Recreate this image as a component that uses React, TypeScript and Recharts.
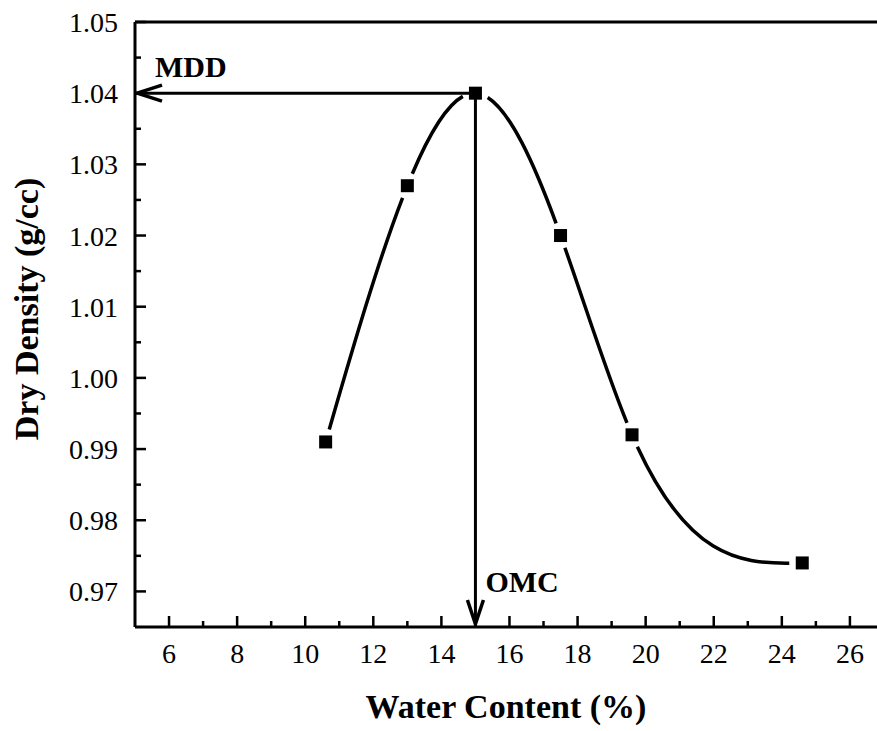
import React from 'react';
import { ComposedChart, Line, XAxis, YAxis, ReferenceLine } from 'recharts';

// ---- data ----
const waterContent = [10.6, 13.0, 15.0, 17.5, 19.6, 24.6];
const dryDensity = [0.991, 1.027, 1.04, 1.02, 0.992, 0.974];
const xTicks = [6, 8, 10, 12, 14, 16, 18, 20, 22, 24, 26];
const xMinorTicks = [7, 9, 11, 13, 15, 17, 19, 21, 23, 25, 27];
const yTicks = [0.97, 0.98, 0.99, 1.0, 1.01, 1.02, 1.03, 1.04, 1.05];
const yMinorTicks = [0.975, 0.985, 0.995, 1.005, 1.015, 1.025, 1.035, 1.045];
const xDomain = [5, 28];
const yDomain = [0.965, 1.05];
const omcValue = 15.0;
const mddValue = 1.04;

const curveData = waterContent.map((x, i) => ({ x, y: dryDensity[i] }));
const mddArrow = [
  { x: omcValue, y: mddValue },
  { x: xDomain[0], y: mddValue },
];
const omcArrow = [
  { x: omcValue, y: mddValue },
  { x: omcValue, y: yDomain[0] },
];

const FONT = '"Liberation Serif", "Times New Roman", Times, serif';
const SYMBOL_GAP = 13; // px gap left around each symbol (Origin style)
const isIn = (arr: number[], v: number) => arr.some((t) => Math.abs(t - v) < 1e-9);

type Pt = [number, number];
const lerp = (a: Pt, b: Pt, t: number): Pt => [a[0] + (b[0] - a[0]) * t, a[1] + (b[1] - a[1]) * t];
function splitBez(P: Pt[], t: number): [Pt[], Pt[]] {
  const p01 = lerp(P[0], P[1], t);
  const p12 = lerp(P[1], P[2], t);
  const p23 = lerp(P[2], P[3], t);
  const p012 = lerp(p01, p12, t);
  const p123 = lerp(p12, p23, t);
  const p = lerp(p012, p123, t);
  return [
    [P[0], p01, p012, p],
    [p, p123, p23, P[3]],
  ];
}
function bezAt(P: Pt[], t: number): Pt {
  return splitBez(P, t)[0][3];
}
const dist = (a: Pt, b: Pt) => Math.hypot(a[0] - b[0], a[1] - b[1]);
function findT(P: Pt[], fromStart: boolean, r: number): number {
  const ref = fromStart ? P[0] : P[3];
  let lo = 0;
  let hi = 1;
  for (let k = 0; k < 40; k++) {
    const mid = (lo + hi) / 2;
    const t = fromStart ? mid : 1 - mid;
    if (dist(bezAt(P, t), ref) < r) lo = mid;
    else hi = mid;
  }
  const m = (lo + hi) / 2;
  return fromStart ? m : 1 - m;
}

// Natural cubic spline with y as a function of x (Origin "Spline" connection),
// drawn with a small gap around each data symbol.
function splineX(context: any) {
  let xs: number[] = [];
  let ys: number[] = [];
  return {
    areaStart() {},
    areaEnd() {},
    lineStart() {
      xs = [];
      ys = [];
    },
    point(x: number, y: number) {
      xs.push(+x);
      ys.push(+y);
    },
    lineEnd() {
      const n = xs.length;
      if (n < 2) {
        xs = [];
        ys = [];
        return;
      }
      const h: number[] = [];
      const s: number[] = [];
      for (let i = 0; i < n - 1; i++) {
        h[i] = xs[i + 1] - xs[i];
        s[i] = (ys[i + 1] - ys[i]) / h[i];
      }
      let M: number[] = new Array(n).fill(0);
      if (n > 2) {
        const m = n - 2;
        const a: number[] = [];
        const b: number[] = [];
        const c: number[] = [];
        const d: number[] = [];
        for (let k = 0; k < m; k++) {
          const i = k + 1;
          a[k] = h[i - 1];
          b[k] = 2 * (h[i - 1] + h[i]);
          c[k] = h[i];
          d[k] = 6 * (s[i] - s[i - 1]);
        }
        for (let k = 1; k < m; k++) {
          const w = a[k] / b[k - 1];
          b[k] -= w * c[k - 1];
          d[k] -= w * d[k - 1];
        }
        const Mk: number[] = new Array(m).fill(0);
        Mk[m - 1] = d[m - 1] / b[m - 1];
        for (let k = m - 2; k >= 0; k--) Mk[k] = (d[k] - c[k] * Mk[k + 1]) / b[k];
        M = [0, ...Mk, 0];
      }
      for (let i = 0; i < n - 1; i++) {
        const d0 = s[i] - (h[i] * (2 * M[i] + M[i + 1])) / 6;
        const d1 = s[i] + (h[i] * (M[i] + 2 * M[i + 1])) / 6;
        const P: Pt[] = [
          [xs[i], ys[i]],
          [xs[i] + h[i] / 3, ys[i] + (d0 * h[i]) / 3],
          [xs[i + 1] - h[i] / 3, ys[i + 1] - (d1 * h[i]) / 3],
          [xs[i + 1], ys[i + 1]],
        ];
        const ta = findT(P, true, SYMBOL_GAP);
        const tb = findT(P, false, SYMBOL_GAP);
        if (tb <= ta) continue;
        const left = splitBez(P, tb)[0];
        const sub = splitBez(left, ta / tb)[1];
        context.moveTo(sub[0][0], sub[0][1]);
        context.bezierCurveTo(sub[1][0], sub[1][1], sub[2][0], sub[2][1], sub[3][0], sub[3][1]);
      }
      xs = [];
      ys = [];
    },
  };
}

const XTick = (props: any) => {
  const { x, y, payload } = props;
  const major = isIn(xTicks, payload.value);
  return (
    <g>
      <line x1={x} x2={x} y1={y} y2={y - (major ? 11 : 6)} stroke="#000" strokeWidth={2.5} />
      {major && (
        <text x={x} y={y + 36} textAnchor="middle" fontSize={28} fontFamily={FONT} fill="#000">
          {payload.value}
        </text>
      )}
    </g>
  );
};

const YTick = (props: any) => {
  const { x, y, payload } = props;
  const major = isIn(yTicks, payload.value);
  return (
    <g>
      <line x1={x} x2={x + (major ? 11 : 6)} y1={y} y2={y} stroke="#000" strokeWidth={2.5} />
      {major && (
        <text x={x - 17} y={y + 10} textAnchor="end" fontSize={28} fontFamily={FONT} fill="#000">
          {Number(payload.value).toFixed(2)}
        </text>
      )}
    </g>
  );
};

const MarkerDot = (props: any) => {
  const { cx, cy, index } = props;
  if (cx == null || cy == null) return <g key={`m-${index}`} />;
  return <rect key={`m-${index}`} x={cx - 6.5} y={cy - 6.5} width={13} height={13} fill="#000" />;
};

const MddTip = (props: any) => {
  const { cx, cy, index } = props;
  if (index !== 1) return <g key={`a-${index}`} />;
  return (
    <g key={`a-${index}`}>
      <path
        d={`M${cx + 27},${cy - 8} L${cx + 2},${cy} L${cx + 27},${cy + 8}`}
        fill="none"
        stroke="#000"
        strokeWidth={3.5}
        strokeLinejoin="miter"
      />
      <text x={cx + 20} y={cy - 16} fontSize={30} fontWeight="bold" fontFamily={FONT} fill="#000">
        MDD
      </text>
    </g>
  );
};

const OmcTip = (props: any) => {
  const { cx, cy, index } = props;
  if (index !== 1) return <g key={`o-${index}`} />;
  return (
    <g key={`o-${index}`}>
      <path
        d={`M${cx - 8},${cy - 27} L${cx},${cy - 3} L${cx + 8},${cy - 27}`}
        fill="none"
        stroke="#000"
        strokeWidth={3.5}
        strokeLinejoin="miter"
      />
      <text x={cx + 10} y={cy - 35} fontSize={30} fontWeight="bold" fontFamily={FONT} fill="#000">
        OMC
      </text>
    </g>
  );
};

export default function App() {
  return (
    <div
      style={{
        position: 'absolute',
        left: 0,
        top: 0,
        width: 877,
        height: 731,
        overflow: 'hidden',
        background: '#fff',
      }}
    >
      <ComposedChart width={918} height={731} margin={{ top: 22, right: 0, bottom: 0, left: 0 }}>
        <XAxis
          xAxisId="main"
          dataKey="x"
          type="number"
          domain={xDomain}
          allowDataOverflow
          ticks={[...xTicks, ...xMinorTicks].sort((a, b) => a - b)}
          interval={0}
          height={104}
          tickSize={0}
          tickMargin={0}
          tickLine={false}
          tick={<XTick />}
          axisLine={{ stroke: '#000', strokeWidth: 3 }}
        />
        <YAxis
          yAxisId="main"
          type="number"
          domain={yDomain}
          allowDataOverflow
          ticks={[...yTicks, ...yMinorTicks].sort((a, b) => a - b)}
          interval={0}
          width={135}
          tickSize={0}
          tickMargin={0}
          tickLine={false}
          tick={<YTick />}
          axisLine={{ stroke: '#000', strokeWidth: 3 }}
        />
        <ReferenceLine xAxisId="main" yAxisId="main" y={yDomain[1]} stroke="#000" strokeWidth={3} />
        <Line
          xAxisId="main"
          yAxisId="main"
          data={mddArrow}
          dataKey="y"
          type="linear"
          stroke="#000"
          strokeWidth={3}
          dot={MddTip}
          activeDot={false}
          isAnimationActive={false}
        />
        <Line
          xAxisId="main"
          yAxisId="main"
          data={omcArrow}
          dataKey="y"
          type="linear"
          stroke="#000"
          strokeWidth={3}
          dot={OmcTip}
          activeDot={false}
          isAnimationActive={false}
        />
        <Line
          xAxisId="main"
          yAxisId="main"
          data={curveData}
          dataKey="y"
          type={splineX as any}
          stroke="#000"
          strokeWidth={3.5}
          dot={MarkerDot}
          activeDot={false}
          isAnimationActive={false}
        />
      </ComposedChart>
      <svg
        width={877}
        height={731}
        style={{ position: 'absolute', left: 0, top: 0, pointerEvents: 'none' }}
      >
        <text x={506} y={718} textAnchor="middle" fontSize={34} fontWeight="bold" fontFamily={FONT} fill="#000">
          Water Content (%)
        </text>
        <text
          x={0}
          y={0}
          transform="translate(38,309) rotate(-90)"
          textAnchor="middle"
          fontSize={34}
          fontWeight="bold"
          fontFamily={FONT}
          fill="#000"
        >
          Dry Density (g/cc)
        </text>
      </svg>
    </div>
  );
}
